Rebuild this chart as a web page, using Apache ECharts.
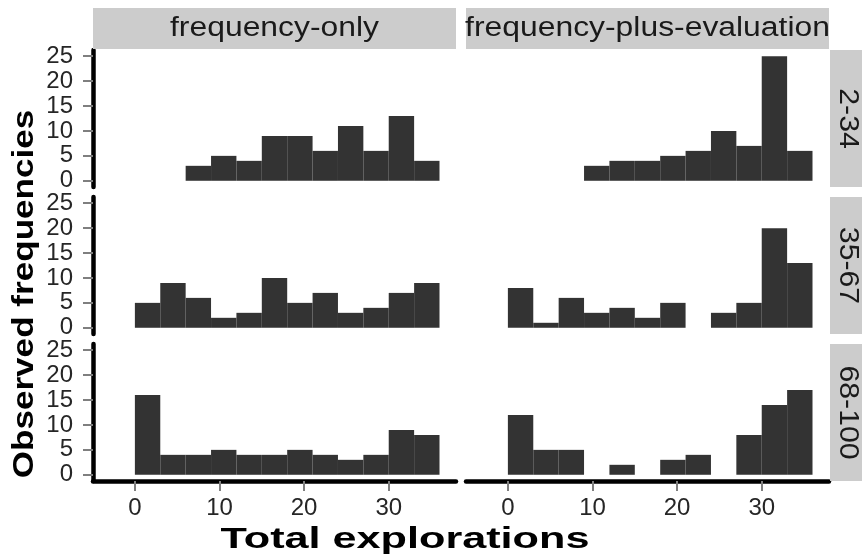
<!DOCTYPE html>
<html><head><meta charset="utf-8">
<script src="https://cdn.jsdelivr.net/npm/echarts@6/dist/echarts.min.js"></script>
<style>html,body{margin:0;padding:0;background:#fff}#c{width:862px;height:557px}</style>
</head><body><div id="c"></div>
<script>
// ---- data ----
const binStarts = [0, 3, 6, 9, 12, 15, 18, 21, 24, 27, 30, 33];
const binWidth = 3;
const colLabels = ['frequency-only', 'frequency-plus-evaluation'];
const rowLabels = ['2-34', '35-67', '68-100'];
const xTicks = [0, 10, 20, 30];
const yTicks = [0, 5, 10, 15, 20, 25];
const freqOnly_2_34 = [0, 0, 3, 5, 4, 9, 9, 6, 11, 6, 13, 4];
const freqPlusEval_2_34 = [0, 0, 0, 3, 4, 4, 5, 6, 10, 7, 25, 6];
const freqOnly_35_67 = [5, 9, 6, 2, 3, 10, 5, 7, 3, 4, 7, 9];
const freqPlusEval_35_67 = [8, 1, 6, 3, 4, 2, 5, 0, 3, 5, 20, 13];
const freqOnly_68_100 = [16, 4, 4, 5, 4, 4, 5, 4, 3, 4, 9, 8];
const freqPlusEval_68_100 = [12, 5, 5, 0, 2, 0, 3, 4, 0, 8, 14, 17];
const xTitle = 'Total explorations';
const yTitle = 'Observed frequencies';

const panelData = [
  [freqOnly_2_34, freqPlusEval_2_34],
  [freqOnly_35_67, freqPlusEval_35_67],
  [freqOnly_68_100, freqPlusEval_68_100]
];

// ---- layout ----
const colLeft = [93, 466], colW = 363;
const rowTop = [50, 197, 344], rowH = 137;
const FONT = 'Liberation Sans, Arial, sans-serif';

const grids = [], xAxes = [], yAxes = [], series = [], graphics = [];
let idx = 0;
for (let r = 0; r < 3; r++) {
  for (let c = 0; c < 2; c++) {
    grids.push({left: colLeft[c], top: rowTop[r], width: colW, height: rowH, containLabel: false});
    const showX = r === 2, showY = c === 0;
    xAxes.push({
      type: 'value', gridIndex: idx, min: -4.95, max: 37.95,
      splitLine: {show: false},
      axisLine: {show: showX, onZero: false, lineStyle: {color: '#000', width: 4.5, cap: 'round'}},
      axisTick: {show: showX, customValues: xTicks, length: 10, lineStyle: {color: '#7f7f7f', width: 2}},
      axisLabel: {show: showX, customValues: xTicks, margin: 15, fontSize: 24, color: '#262626', fontFamily: FONT}
    });
    yAxes.push({
      type: 'value', gridIndex: idx, min: -1.25, max: 26.25,
      splitLine: {show: false},
      axisLine: {show: showY, onZero: false, lineStyle: {color: '#000', width: 4.5, cap: 'round'}},
      axisTick: {show: showY, customValues: yTicks, length: 10, lineStyle: {color: '#7f7f7f', width: 2}},
      axisLabel: {show: showY, customValues: yTicks, margin: 20, fontSize: 24, color: '#262626', fontFamily: FONT, lineHeight: 20}
    });
    const vals = panelData[r][c];
    series.push({
      type: 'custom', xAxisIndex: idx, yAxisIndex: idx, silent: true,
      data: binStarts.map((s, i) => [s, s + binWidth, vals[i]]),
      encode: {x: [0, 1], y: 2},
      renderItem: function (params, api) {
        const y = api.value(2);
        if (y <= 0) return null;
        const p0 = api.coord([api.value(0), y]);
        const p1 = api.coord([api.value(1), 0]);
        return {type: 'rect', shape: {x: p0[0], y: p0[1], width: p1[0] - p0[0], height: p1[1] - p0[1]},
          style: {fill: '#333333'}};
      }
    });
    idx++;
  }
}

// strips
for (let c = 0; c < 2; c++) {
  graphics.push({type: 'rect', left: colLeft[c], top: 8, shape: {width: colW, height: 41}, style: {fill: '#cccccc'}, z: 1});
  graphics.push({type: 'text', x: colLeft[c] + colW / 2, y: 29, scaleX: 1.18, z: 2,
    style: {text: colLabels[c], font: '27px ' + FONT, fill: '#1a1a1a', align: 'center', verticalAlign: 'middle'}});
}
for (let r = 0; r < 3; r++) {
  graphics.push({type: 'rect', left: 830, top: rowTop[r], shape: {width: 32, height: rowH}, style: {fill: '#cccccc'}, z: 1});
  graphics.push({type: 'text', x: 847, y: rowTop[r] + rowH / 2, rotation: -Math.PI / 2, scaleX: 1.12, z: 2,
    style: {text: rowLabels[r], font: '27px ' + FONT, fill: '#1a1a1a', align: 'center', verticalAlign: 'middle'}});
}
graphics.push({type: 'text', x: 405, y: 540, scaleX: 1.44, z: 2,
  style: {text: xTitle, font: 'bold 30px ' + FONT, fill: '#000', align: 'center', verticalAlign: 'middle'}});
graphics.push({type: 'text', x: 25, y: 294, rotation: Math.PI / 2, scaleX: 1.17, z: 2,
  style: {text: yTitle, font: 'bold 30px ' + FONT, fill: '#000', align: 'center', verticalAlign: 'middle'}});

const chart = echarts.init(document.getElementById('c'), null, {renderer: 'canvas'});
chart.setOption({
  backgroundColor: '#ffffff',
  animation: false,
  grid: grids, xAxis: xAxes, yAxis: yAxes, series: series, graphic: graphics
});
</script></body></html>
